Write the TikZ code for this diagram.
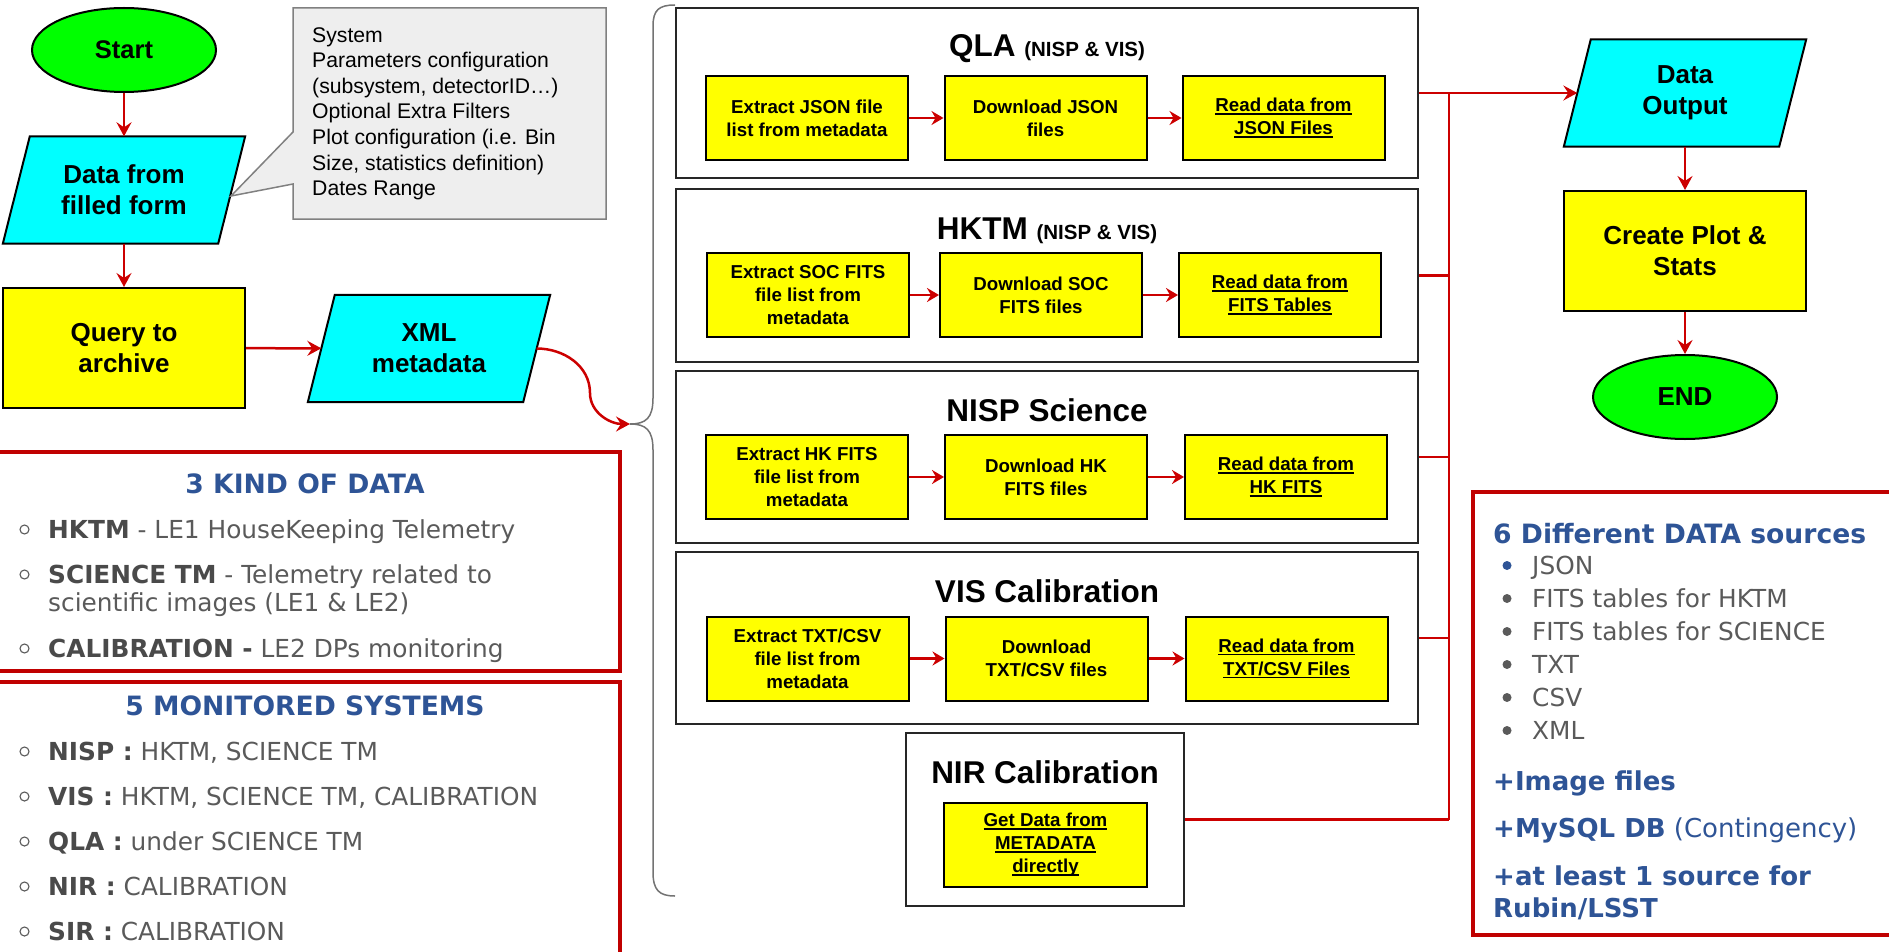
\documentclass[tikz,border=0pt]{standalone}
\usepackage{fontspec}
\setmainfont{Liberation Sans}
\newfontfamily\dvfont{DejaVu Sans}
\usetikzlibrary{arrows.meta,shapes.geometric}
\pgfdeclarelayer{bg}\pgfsetlayers{bg,main}
\definecolor{cyanF}{HTML}{00FFFF}
\definecolor{yelF}{HTML}{FFFF00}
\definecolor{grnF}{HTML}{00FF00}
\definecolor{redL}{HTML}{CC0000}
\definecolor{panelR}{HTML}{C00000}
\definecolor{blueT}{HTML}{2E5496}
\definecolor{grayT}{HTML}{5A5A5A}
\definecolor{grayB}{HTML}{4A4A4A}
\definecolor{calloutF}{HTML}{EEEEEE}
\definecolor{calloutD}{HTML}{808080}
\newcommand\ulx[1]{\setbox0\hbox{#1}\rlap{\rule[-3pt]{\wd0}{1.6pt}}\box0}
\begin{document}
\begin{tikzpicture}[x=1pt,y=-1pt,
  ybox/.style={draw=black, line width=2pt, fill=yelF, minimum width=202pt, minimum height=84pt, inner sep=2pt, align=center, font=\fontsize{18.7}{23}\selectfont\bfseries},
  sect/.style={draw=black!85, line width=2pt, fill=white, inner sep=0pt},
  bigtxt/.style={font=\fontsize{26}{31}\selectfont\bfseries, align=center},
  flowrect/.style={bigtxt, draw=black, line width=2pt, fill=yelF, minimum width=242pt, minimum height=120pt, inner sep=0pt},
  flowell/.style={bigtxt, ellipse, draw=black, line width=2pt, fill=grnF, minimum width=184pt, minimum height=84pt, inner sep=0pt},
  para/.style={bigtxt, minimum width=215pt, minimum height=107pt, inner sep=0pt},
  arr/.style={draw=redL, line width=2.5pt, -{Stealth[length=14pt,width=15pt,inset=5pt]}},
  rl/.style={draw=redL, line width=2.5pt},
  ttl/.style={anchor=base, inner sep=0pt, font=\fontsize{31.5}{37}\selectfont\bfseries},
  ptxt/.style={anchor=base west, inner sep=0pt, text=grayT, font=\dvfont\fontsize{24.8}{29}\selectfont},
  ptitle/.style={anchor=base, inner sep=0pt, text=blueT, font=\dvfont\fontsize{26.6}{31}\selectfont\bfseries},
  rtxt/.style={anchor=base west, inner sep=0pt, text=blueT, font=\dvfont\fontsize{26}{30}\selectfont},
]
\useasboundingbox (0,0) rectangle (1889,952);
\clip (0,0) rectangle (1889,952);

% callout
\filldraw[fill=calloutF, draw=calloutD, line width=1.5pt] (293,8) -- (606,8) -- (606,219) -- (293,219) -- (293,184) -- (231,196) -- (293,132) -- cycle;
\node[anchor=north west, inner sep=0pt, align=left, font=\fontsize{21.2}{25.6}\selectfont] (callt) at (312,27)
 {System\\Parameters configuration\\(subsystem, detectorID…)\\Optional Extra Filters\\Plot configuration (i.e. Bin\\Size, statistics definition)\\Dates Range};

% left flow
\node[flowell, font=\fontsize{25.5}{30}\selectfont\bfseries] (start) at (124,50) {Start};
\node[para] (data) at (124,190) {Data from\\filled form};
\node[flowrect] (query) at (124,348) {Query to\\archive};
\node[para] (xml) at (429,348.5) {XML\\metadata};

% right flow
\node[para] (dout) at (1685,93) {Data\\Output};
\node[flowrect] (create) at (1685,251) {Create Plot \&\\Stats};
\node[flowell] (endn) at (1685,397) {END};

\begin{pgfonlayer}{bg}
\foreach \n in {data,xml,dout}{
  \filldraw[fill=cyanF, draw=black, line width=2pt]
   ([xshift=13.5pt]\n.north west) -- ([xshift=13.5pt]\n.north east) -- ([xshift=-13.5pt]\n.south east) -- ([xshift=-13.5pt]\n.south west) -- cycle;
}
\end{pgfonlayer}

% sections
\node[sect, minimum width=742pt, minimum height=170pt] (qla) at (1047,93) {};
\node[sect, minimum width=742pt, minimum height=173pt] (hktm) at (1047,275.5) {};
\node[sect, minimum width=742pt, minimum height=172pt] (nisp) at (1047,457) {};
\node[sect, minimum width=742pt, minimum height=172pt] (vis) at (1047,638) {};
\node[sect, minimum width=278pt, minimum height=173pt] (nir) at (1045,819.5) {};

\node[ttl] (qlat) at (1047,57) {QLA {\fontsize{20.5}{24}\selectfont (NISP \& VIS)}};
\node[ttl] (hktmt) at (1047,240) {HKTM {\fontsize{20.5}{24}\selectfont (NISP \& VIS)}};
\node[ttl] (nispt) at (1047,421) {NISP Science};
\node[ttl] (vist) at (1047,602) {VIS Calibration};
\node[ttl] (nirt) at (1045,783) {NIR Calibration};

\node[ybox] (q1) at (807,118) {Extract JSON file\\list from metadata};
\node[ybox] (q2) at (1045.5,118) {Download JSON\\files};
\node[ybox] (q3) at (1283.5,118) {\ulx{Read data from}\\\ulx{JSON Files}};
\node[ybox] (h1) at (808,295) {Extract SOC FITS\\file list from\\metadata};
\node[ybox] (h2) at (1041,295) {Download SOC\\FITS files};
\node[ybox] (h3) at (1280,295) {\ulx{Read data from}\\\ulx{FITS Tables}};
\node[ybox] (n1) at (807,477) {Extract HK FITS\\file list from\\metadata};
\node[ybox] (n2) at (1046,477) {Download HK\\FITS files};
\node[ybox] (n3) at (1286,477) {\ulx{Read data from}\\\ulx{HK FITS}};
\node[ybox] (v1) at (807.5,658.5) {Extract TXT/CSV\\file list from\\metadata};
\node[ybox] (v2) at (1046.5,658.5) {Download\\TXT/CSV files};
\node[ybox] (v3) at (1286.5,658.5) {\ulx{Read data from}\\\ulx{TXT/CSV Files}};
\node[ybox, minimum width=203pt] (r1) at (1045.5,845) {\ulx{Get Data from}\\\ulx{METADATA}\\\ulx{directly}};

\foreach \a/\b in {q1/q2,q2/q3,h1/h2,h2/h3,n1/n2,n2/n3,v1/v2,v2/v3}
  \draw[arr, -{Stealth[length=12pt,width=14pt,inset=4pt]}] (\a.east) -- (\b.west);

% flow arrows
\draw[arr] (start) -- (data);
\draw[arr] (data) -- (query);
\draw[arr] (query) -- (xml);
\draw[arr] (dout) -- (create);
\draw[arr] (create) -- (endn);

% brace
\coordinate (btip) at (630,424);
\draw[draw=black!55, line width=1.5pt] (675,5) .. controls (659,5) and (653,10) .. (653,26) -- (653,398)
  .. controls (653,418) and (646,424) .. (btip) .. controls (646,424) and (653,430) .. (653,450)
  -- (653,872) .. controls (653,890) and (659,896) .. (675,896);
\coordinate (cmid) at (590,393);
\draw[arr] (xml.east) to[out=0,in=90] (cmid) to[out=-90,in=180] (btip);

% bus
\coordinate (bt) at (1449,93);
\coordinate (bb) at (1449,819.5);
\draw[arr] (qla.east) -- (dout.west);
\draw[rl] (bt) -- (bb);
\draw[rl] (hktm.east) -- (hktm.east -| bt);
\draw[rl] (nisp.east) -- (nisp.east -| bt);
\draw[rl] (vis.east) -- (vis.east -| bt);
\draw[rl] (nir.east) -- (bb);

% left panels
\draw[panelR, line width=4pt] (-10,452) rectangle (620,671);
\draw[panelR, line width=4pt] (-10,682) rectangle (620,1000);
\node[ptitle] (p1t) at (305,493) {3 KIND OF DATA};
\foreach \yy in {538,583,657,760,805,850,895,940}
  \draw[grayT, line width=1.1pt] (24.5,\yy-8.5) circle[radius=4.5pt];
\node[ptxt] (k1) at (48,538) {\textbf{\color{grayB}HKTM} - LE1 HouseKeeping Telemetry};
\node[ptxt] (k2) at (48,583) {\textbf{\color{grayB}SCIENCE TM} - Telemetry related to};
\node[ptxt] (k2b) at (48,611) {scientific images (LE1 \& LE2)};
\node[ptxt] (k3) at (48,657) {\textbf{\color{grayB}CALIBRATION -} LE2 DPs monitoring};
\node[ptitle] (p2t) at (305,715) {5 MONITORED SYSTEMS};
\node[ptxt] (m1) at (48,760) {\textbf{\color{grayB}NISP :} HKTM, SCIENCE TM};
\node[ptxt] (m2) at (48,805) {\textbf{\color{grayB}VIS :} HKTM, SCIENCE TM, CALIBRATION};
\node[ptxt] (m3) at (48,850) {\textbf{\color{grayB}QLA :} under SCIENCE TM};
\node[ptxt] (m4) at (48,895) {\textbf{\color{grayB}NIR :} CALIBRATION};
\node[ptxt] (m5) at (48,940) {\textbf{\color{grayB}SIR :} CALIBRATION};

% right panel
\draw[panelR, line width=4pt] (1473,492) rectangle (1910,935);
\node[rtxt, font=\dvfont\fontsize{26.6}{31}\selectfont\bfseries] (s0) at (1493,543) {6 Different DATA sources};
\fill[blueT] (1507,565.5) circle[radius=4.5pt];
\foreach \yy in {607,640,673,706,739}
  \fill[grayT] (1507,\yy-8.5) circle[radius=4.5pt];
\node[ptxt] (s1) at (1532,574) {JSON};
\node[ptxt] (s2) at (1532,607) {FITS tables for HKTM};
\node[ptxt] (s3) at (1532,640) {FITS tables for SCIENCE};
\node[ptxt] (s4) at (1532,673) {TXT};
\node[ptxt] (s5) at (1532,706) {CSV};
\node[ptxt] (s6) at (1532,739) {XML};
\node[rtxt] (s7) at (1493,790) {\textbf{+Image files}};
\node[rtxt] (s8) at (1493,837) {\textbf{+MySQL DB} (Contingency)};
\node[rtxt] (s9) at (1493,885) {\textbf{+at least 1 source for}};
\node[rtxt] (s10) at (1493,917) {\textbf{Rubin/LSST}};
\end{tikzpicture}
\end{document}
